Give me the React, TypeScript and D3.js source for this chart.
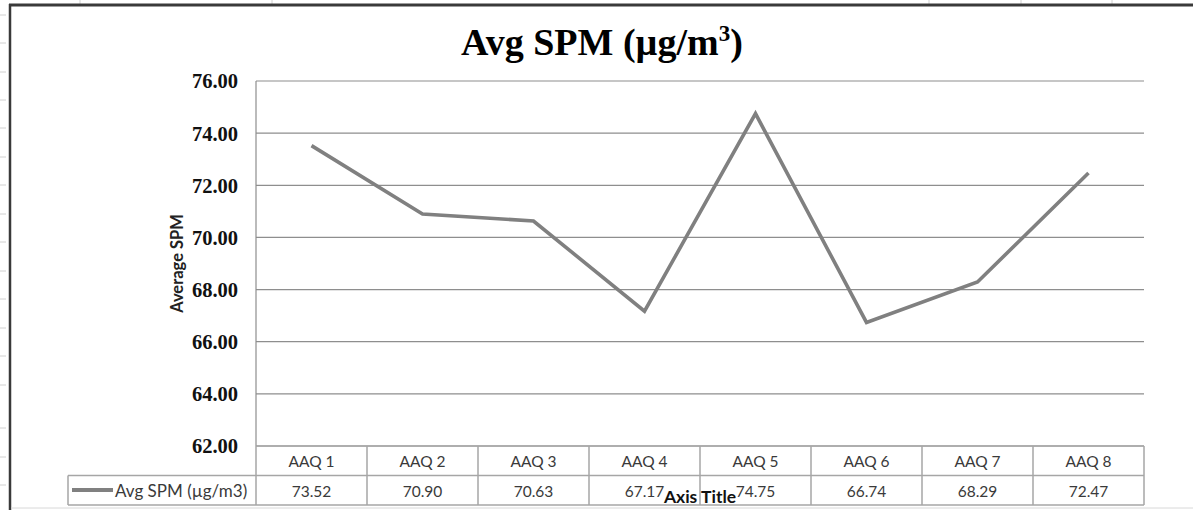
import React from "react";
import * as d3 from "d3";

const categories = ["AAQ 1", "AAQ 2", "AAQ 3", "AAQ 4", "AAQ 5", "AAQ 6", "AAQ 7", "AAQ 8"];
const values = [73.52, 70.9, 70.63, 67.17, 74.75, 66.74, 68.29, 72.47];
const yTicks = [62, 64, 66, 68, 70, 72, 74, 76];
const seriesName = "Avg SPM (\u00b5g/m3)";

const W = 1193;
const H = 510;
const plotL = 256;
const plotR = 1144;
const plotT = 81;
const plotB = 446;
const rowH = 29.5;

export default function App() {
  const y = d3.scaleLinear().domain([62, 76]).range([plotB, plotT]);
  const x = d3.scaleBand<string>().domain(categories).range([plotL, plotR]).padding(0);
  const cx = (c: string) => (x(c) as number) + x.bandwidth() / 2;
  const line = d3
    .line<number>()
    .x((_, i) => cx(categories[i]))
    .y((d) => y(d));

  const gridColor = "#8e8e8e";
  const tableColor = "#a6a6a6";
  const textGray = "#3a3a3a";
  const sans = "Lato, 'Open Sans', sans-serif";
  const serif = "'Liberation Serif', 'Times New Roman', serif";
  const row1 = plotB;
  const row2 = plotB + rowH;
  const row3 = plotB + rowH * 2;

  const sheetCols = [80, 272, 929, 1021, 1112];
  const sheetRows = [15, 43, 72, 100, 128, 157, 185, 214, 242, 271, 299, 328, 356, 385, 428, 457, 485];

  return (
    <svg
      width={W}
      height={H}
      style={{ position: "absolute", left: 0, top: 0, background: "#fff" }}
    >
      {/* spreadsheet cell lines peeking out */}
      {sheetCols.map((c) => (
        <line key={"sc" + c} x1={c} x2={c} y1={0} y2={4} stroke="#d0d0d0" strokeWidth={1} />
      ))}
      {sheetRows.map((r) => (
        <line key={"sr" + r} x1={0} x2={6} y1={r} y2={r} stroke="#d0d0d0" strokeWidth={1} />
      ))}
      {/* chart frame */}
      <line x1={9} x2={W} y1={5} y2={5} stroke="#3a3a3a" strokeWidth={3} />
      <line x1={10} x2={10} y1={4} y2={H} stroke="#3a3a3a" strokeWidth={2.5} />
      <line x1={11} x2={W} y1={508} y2={508} stroke="#d8d8d8" strokeWidth={1} />

      {/* title */}
      <text
        x={602}
        y={55}
        textAnchor="middle"
        fontFamily={serif}
        fontWeight="bold"
        fontSize={38}
        fill="#000"
      >
        Avg SPM (µg/m
        <tspan fontSize={23} dy={-14}>
          3
        </tspan>
        <tspan dy={14}>)</tspan>
      </text>

      {/* gridlines */}
      {yTicks.map((t) => (
        <line key={"g" + t} x1={plotL} x2={plotR} y1={y(t)} y2={y(t)} stroke={gridColor} strokeWidth={1.2} />
      ))}
      <line x1={plotL} x2={plotL} y1={plotT} y2={plotB} stroke={gridColor} strokeWidth={1.2} />

      {/* y tick labels */}
      {yTicks.map((t) => (
        <text
          key={"t" + t}
          x={238}
          y={y(t)}
          dy="0.36em"
          textAnchor="end"
          fontFamily={serif}
          fontWeight="bold"
          fontSize={20.5}
          fill="#111"
        >
          {t.toFixed(2)}
        </text>
      ))}

      {/* y axis title */}
      <text
        transform={`translate(183,${(plotT + plotB) / 2}) rotate(-90)`}
        textAnchor="middle"
        fontFamily={sans}
        fontWeight="bold"
        fontSize={16.5}
        fill="#222"
      >
        Average SPM
      </text>

      {/* series line */}
      <path
        d={line(values) || ""}
        fill="none"
        stroke="#808080"
        strokeWidth={3.6}
        strokeLinejoin="miter"
      />

      {/* data table */}
      <g stroke={tableColor} strokeWidth={1.5} fill="none">
        <line x1={plotL} x2={plotR} y1={row1} y2={row1} />
        <line x1={68} x2={plotR} y1={row2} y2={row2} />
        <line x1={68} x2={plotR} y1={row3} y2={row3} />
        <line x1={68} x2={68} y1={row2} y2={row3} />
        {categories.map((c) => (
          <line key={"v" + c} x1={x(c) as number} x2={x(c) as number} y1={row1} y2={row3} />
        ))}
        <line x1={plotR} x2={plotR} y1={row1} y2={row3} />
      </g>
      {categories.map((c, i) => (
        <g key={"c" + c}>
          <text
            x={cx(c)}
            y={row1 + 21}
            textAnchor="middle"
            fontFamily={sans}
            fontSize={15.5}
            fill={textGray}
          >
            {c}
          </text>
          <text
            x={cx(c)}
            y={row2 + 21}
            textAnchor="middle"
            fontFamily={sans}
            fontSize={15.5}
            fill={textGray}
          >
            {values[i].toFixed(2)}
          </text>
        </g>
      ))}
      <line x1={72} x2={113} y1={490} y2={490} stroke="#808080" strokeWidth={4} />
      <text x={115} y={row2 + 21} fontFamily={sans} fontSize={17} fill={textGray}>
        {seriesName}
      </text>

      {/* axis title */}
      <text
        x={(plotL + plotR) / 2}
        y={503}
        textAnchor="middle"
        fontFamily={sans}
        fontWeight="bold"
        fontSize={17.5}
        fill="#111"
      >
        Axis Title
      </text>
    </svg>
  );
}
